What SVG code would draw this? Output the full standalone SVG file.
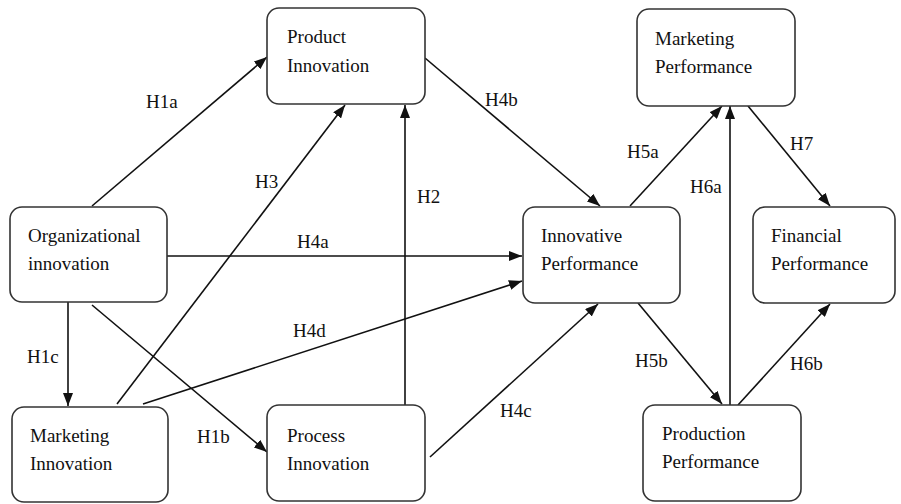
<svg xmlns="http://www.w3.org/2000/svg" width="901" height="504" viewBox="0 0 901 504">
<style>
.box{fill:#fff;stroke:#333;stroke-width:1.6}
.t{font-family:'Liberation Serif','Times New Roman','DejaVu Serif',Times,serif;font-size:19px;fill:#111}
.c{stroke:#111;stroke-width:1.6;fill:none}
.a{marker-end:url(#ah)}
</style>
<defs>
<marker id="ah" markerUnits="userSpaceOnUse" markerWidth="13" markerHeight="10" refX="13" refY="5" orient="auto">
<path d="M0,0 L13,5 L0,10 z" fill="#111"/>
</marker>
</defs>
<rect width="901" height="504" fill="#fff"/>
<g id="connectors">
<line class="c a" x1="92" y1="206" x2="267" y2="57"/>
<line class="c a" x1="117" y1="404" x2="345" y2="105"/>
<line class="c a" x1="405" y1="405" x2="405" y2="105"/>
<line class="c a" x1="425" y1="58" x2="600" y2="206"/>
<line class="c a" x1="167" y1="256" x2="522" y2="256"/>
<line class="c a" x1="68" y1="302" x2="68" y2="406"/>
<line class="c a" x1="92" y1="305" x2="267" y2="452"/>
<line class="c a" x1="143" y1="404" x2="522" y2="281"/>
<line class="c a" x1="430" y1="457" x2="598" y2="304"/>
<line class="c a" x1="630" y1="206" x2="722" y2="106"/>
<line class="c a" x1="730" y1="412" x2="730" y2="106"/>
<line class="c a" x1="748" y1="106" x2="830" y2="206"/>
<line class="c a" x1="638" y1="303" x2="722" y2="404"/>
<line class="c a" x1="738" y1="405" x2="830" y2="304"/>
<text class="t" font-family="Liberation Serif, serif" x="146" y="108">H1a</text>
<text class="t" x="255" y="188">H3</text>
<text class="t" x="417" y="203">H2</text>
<text class="t" x="485" y="106">H4b</text>
<text class="t" x="297" y="248">H4a</text>
<text class="t" x="27" y="363">H1c</text>
<text class="t" x="197" y="443">H1b</text>
<text class="t" x="293" y="337">H4d</text>
<text class="t" x="500" y="417">H4c</text>
<text class="t" x="627" y="158">H5a</text>
<text class="t" x="690" y="193">H6a</text>
<text class="t" x="790" y="150">H7</text>
<text class="t" x="635" y="367">H5b</text>
<text class="t" x="790" y="370">H6b</text>
</g>
<g id="product-innovation">
<rect class="box" x="267" y="8" width="158" height="96" rx="12"/>
<text class="t" x="287" y="43">Product</text>
<text class="t" x="287" y="72">Innovation</text>
</g>
<g id="organizational-innovation">
<rect class="box" x="10" y="207" width="157" height="95" rx="12"/>
<text class="t" x="28" y="242">Organizational</text>
<text class="t" x="28" y="270">innovation</text>
</g>
<g id="marketing-innovation">
<rect class="box" x="12" y="407" width="156" height="95" rx="12"/>
<text class="t" x="30" y="442">Marketing</text>
<text class="t" x="30" y="470">Innovation</text>
</g>
<g id="process-innovation">
<rect class="box" x="267" y="405" width="158" height="96" rx="12"/>
<text class="t" x="287" y="442">Process</text>
<text class="t" x="287" y="470">Innovation</text>
</g>
<g id="innovative-performance">
<rect class="box" x="523" y="207" width="157" height="96" rx="12"/>
<text class="t" x="541" y="242">Innovative</text>
<text class="t" x="541" y="270">Performance</text>
</g>
<g id="marketing-performance">
<rect class="box" x="637" y="9" width="158" height="97" rx="12"/>
<text class="t" x="655" y="45">Marketing</text>
<text class="t" x="655" y="73">Performance</text>
</g>
<g id="financial-performance">
<rect class="box" x="753" y="207" width="142" height="96" rx="12"/>
<text class="t" x="771" y="242">Financial</text>
<text class="t" x="771" y="270">Performance</text>
</g>
<g id="production-performance">
<rect class="box" x="643" y="405" width="158" height="96" rx="12"/>
<text class="t" x="662" y="440">Production</text>
<text class="t" x="662" y="468">Performance</text>
</g>
</svg>
